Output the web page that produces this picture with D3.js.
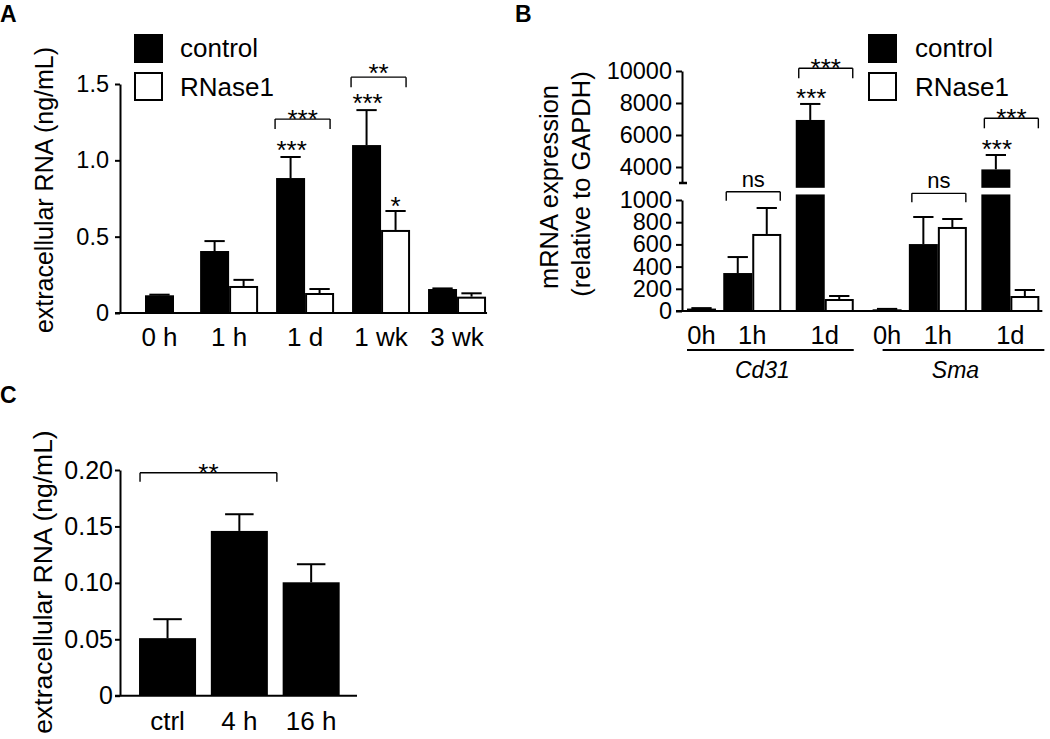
<!DOCTYPE html>
<html><head><meta charset="utf-8">
<script src="https://cdn.jsdelivr.net/npm/d3@7"></script>
<style>
body{margin:0;background:#fff}
svg{display:block}
text{font-family:"Liberation Sans",Arial,Helvetica,sans-serif;fill:#000}
</style>
</head><body>
<svg id="chart" width="1050" height="739"></svg>
<script>
// ---------------- Panel A data ----------------
const catsA = ["0 h", "1 h", "1 d", "1 wk", "3 wk"];
const ctrlA = [0.116, 0.406, 0.884, 1.10, 0.157];
const ctrlErrA = [0.004, 0.065, 0.138, 0.229, 0.004];
const rnaseA = [null, 0.177, 0.131, 0.544, 0.107];
const rnaseErrA = [null, 0.040, 0.026, 0.124, 0.022];
const tickValsA = [0, 0.5, 1.0, 1.5];
const tickLabelsA = ["0", "0.5", "1.0", "1.5"];
const starsCtrlA = ["", "", "***", "***", ""];
const starsRnaseA = ["", "", "", "*", ""];
const bracketCatsA = ["1 d", "1 wk"];
const bracketValsA = [1.27, 1.545];
const bracketLabelsA = ["***", "**"];
const legendLabels = ["control", "RNase1"];

// ---------------- Panel B data ----------------
const genesB = ["Cd31", "Sma"];
const timesB = ["0h", "1h", "1d"];
const ctrlCd31 = [22, 342, 6940];
const ctrlErrCd31 = [4, 144, 1000];
const rnaseCd31 = [null, 694, 108];
const rnaseErrCd31 = [null, 234, 27];
const ctrlSma = [15, 603, 3850];
const ctrlErrSma = [4, 244, 900];
const rnaseSma = [null, 757, 135];
const rnaseErrSma = [null, 72, 54];
const tickValsBLow = [0, 200, 400, 600, 800, 1000];
const tickLabelsBLow = ["0", "200", "400", "600", "800", "1000"];
const tickValsBHigh = [4000, 6000, 8000, 10000];
const tickLabelsBHigh = ["4000", "6000", "8000", "10000"];
const starsCtrlB = ["", "", "***", "", "", "***"];
const bracketIdxB = [1, 2, 4, 5];
const bracketValsB = [1075, 10170, 1060, 7044];
const bracketLabelsB = ["ns", "***", "ns", "***"];

// ---------------- Panel C data ----------------
const catsC = ["ctrl", "4 h", "16 h"];
const valsC = [0.051, 0.146, 0.1005];
const errC = [0.0168, 0.0148, 0.016];
const tickValsC = [0, 0.05, 0.10, 0.15, 0.20];
const tickLabelsC = ["0", "0.05", "0.10", "0.15", "0.20"];
const bracketC = {from: "ctrl", to: "4 h", y: 0.1976, label: "**"};

// ---------------- helpers ----------------
const svg = d3.select("#chart");

function txt(g, x, y, s, o = {}) {
  const t = g.append("text").attr("x", x).attr("y", y).text(s)
    .attr("font-size", o.size || 24)
    .attr("text-anchor", o.anchor || "start");
  if (o.weight) t.attr("font-weight", o.weight);
  if (o.style) t.attr("font-style", o.style);
  if (o.rotate) t.attr("transform", `rotate(${o.rotate},${x},${y})`);
  return t;
}
function line(g, x1, y1, x2, y2, w = 2) {
  g.append("line").attr("x1", x1).attr("y1", y1).attr("x2", x2).attr("y2", y2)
    .attr("stroke", "#000").attr("stroke-width", w);
}
function barRect(g, x0, x1, yTop, yBase, black) {
  if (black) {
    g.append("rect").attr("x", x0).attr("y", yTop).attr("width", x1 - x0)
      .attr("height", Math.max(0, yBase - yTop)).attr("fill", "#000");
  } else {
    g.append("rect").attr("x", x0 + 1).attr("y", yTop + 1).attr("width", x1 - x0 - 2)
      .attr("height", Math.max(0, yBase - yTop - 1)).attr("fill", "#fff")
      .attr("stroke", "#000").attr("stroke-width", 2);
  }
}
function errBar(g, cx, yTop, yErr, capW) {
  line(g, cx, yTop, cx, yErr, 2);
  line(g, cx - capW / 2, yErr, cx + capW / 2, yErr, 2);
}
function bracket(g, x0, x1, y, leg, label, size, gapAbove) {
  line(g, x0, y, x1, y, 1.4);
  line(g, x0, y, x0, y + leg, 1.4);
  line(g, x1, y, x1, y + leg, 1.4);
  txt(g, (x0 + x1) / 2, y - gapAbove, label, {size: size, anchor: "middle"});
}
// asterisks in Arial sit high: baseline ~ 11px below visual bottom at 26px
function stars(g, cx, visualBottom, label) {
  txt(g, cx, visualBottom + 11, label, {size: 26, anchor: "middle"});
}
// group layout in bar-width units
function layout(counts, gapSingle, gapPair, extra) {
  let pos = 0; const groups = [];
  counts.forEach((n, i) => {
    if (i > 0) pos += (counts[i - 1] === 1 ? gapSingle : gapPair) + (extra[i] || 0);
    groups.push({start: pos, n: n});
    pos += n;
  });
  return {groups, total: pos};
}
function styleAxis(g, size) {
  g.select(".domain").attr("stroke-width", 2);
  g.selectAll(".tick line").attr("stroke-width", 2);
  g.selectAll(".tick text").attr("font-size", size)
    .attr("font-family", '"Liberation Sans",Arial,sans-serif');
}

// ================= Panel A =================
(function () {
  const g = svg.append("g");
  const y = d3.scaleLinear().domain([0, 1.5]).range([313, 84]);
  const counts = rnaseA.map(v => v == null ? 1 : 2);
  const L = layout(counts, 0.9, 0.62, []);
  const bw = 29;
  const x = d3.scaleLinear().domain([0, L.total]).range([145, 145 + L.total * bw]);
  const u = x(1) - x(0);
  const capW = 0.7 * u;

  catsA.forEach((c, i) => {
    const gr = L.groups[i];
    const x0 = x(gr.start);
    barRect(g, x0, x0 + u, y(ctrlA[i]), y(0), true);
    errBar(g, x0 + u / 2, y(ctrlA[i]), y(ctrlA[i] + ctrlErrA[i]), capW);
    if (starsCtrlA[i]) stars(g, x0 + u / 2 + 1, y(ctrlA[i] + ctrlErrA[i]) - 9, starsCtrlA[i]);
    if (rnaseA[i] != null) {
      const x1 = x0 + u;
      barRect(g, x1, x1 + u, y(rnaseA[i]), y(0), false);
      errBar(g, x1 + u / 2, y(rnaseA[i]), y(rnaseA[i] + rnaseErrA[i]), capW);
      if (starsRnaseA[i]) stars(g, x1 + u / 2, y(rnaseA[i] + rnaseErrA[i]) - 7, starsRnaseA[i]);
    }
    txt(g, x(gr.start + gr.n / 2), 346, c, {size: 26, anchor: "middle"});
  });

  bracketCatsA.forEach((c, k) => {
    const gr = L.groups[catsA.indexOf(c)];
    bracket(g, x(gr.start) - 1, x(gr.start + gr.n) - 4, y(bracketValsA[k]), 10,
      bracketLabelsA[k], 26, k === 0 ? -9 : -5);
  });

  const ax = g.append("g").attr("transform", "translate(120,0)")
    .call(d3.axisLeft(y).tickValues(tickValsA).tickFormat((d, i) => tickLabelsA[i])
      .tickSize(5).tickSizeOuter(0).tickPadding(6));
  styleAxis(ax, 23.5);
  line(g, 115, y(0), x(L.total) + 1, y(0), 2);

  txt(g, 53, 190, "extracellular RNA (ng/mL)", {size: 25, anchor: "middle", rotate: -90});

  g.append("rect").attr("x", 134).attr("y", 34).attr("width", 29).attr("height", 29).attr("fill", "#000");
  g.append("rect").attr("x", 135).attr("y", 73).attr("width", 27).attr("height", 27)
    .attr("fill", "#fff").attr("stroke", "#000").attr("stroke-width", 2);
  txt(g, 180, 57, legendLabels[0], {size: 26});
  txt(g, 180, 96, legendLabels[1], {size: 26});

  txt(g, 0, 22, "A", {size: 23, weight: "bold"});
})();

// ================= Panel B =================
(function () {
  const g = svg.append("g");
  const yLow = d3.scaleLinear().domain([0, 1000]).range([311, 200]);
  const yHigh = d3.scaleLinear().domain([3000, 10000]).range([183, 71]);
  const lowTopVal = 1050, highBottomVal = 2700;
  const yB = v => v <= 1100 ? yLow(v) : yHigh(v);

  const ctrl = ctrlCd31.concat(ctrlSma);
  const ctrlErr = ctrlErrCd31.concat(ctrlErrSma);
  const rn = rnaseCd31.concat(rnaseSma);
  const rnErr = rnaseErrCd31.concat(rnaseErrSma);
  const labels = timesB.concat(timesB);
  const counts = rn.map(v => v == null ? 1 : 2);
  const L = layout(counts, 0.25, 0.5, [0, 0, 0, 0.15, 0, 0]);
  const bw = 29;
  const x = d3.scaleLinear().domain([0, L.total]).range([687, 687 + L.total * bw]);
  const u = x(1) - x(0);
  const capW = 0.7 * u;

  function drawBar(x0, v, black) {
    if (v <= 1000) {
      barRect(g, x0, x0 + u, yLow(v), yLow(0), black);
    } else {
      barRect(g, x0, x0 + u, yLow(lowTopVal), yLow(0), black);
      barRect(g, x0, x0 + u, yHigh(v), yHigh(highBottomVal), black);
    }
  }

  labels.forEach((lab, i) => {
    const gr = L.groups[i];
    const x0 = x(gr.start);
    drawBar(x0, ctrl[i], true);
    errBar(g, x0 + u / 2, yB(ctrl[i]), yB(ctrl[i] + ctrlErr[i]), capW);
    if (starsCtrlB[i]) stars(g, x0 + u / 2 + 1, yB(ctrl[i] + ctrlErr[i]) - 8, starsCtrlB[i]);
    if (rn[i] != null) {
      const x1 = x0 + u;
      drawBar(x1, rn[i], false);
      errBar(g, x1 + u / 2, yB(rn[i]), yB(rn[i] + rnErr[i]), capW);
    }
    txt(g, x(gr.start + gr.n / 2), 344, lab, {size: 25.5, anchor: "middle"});
  });

  bracketIdxB.forEach((gi, k) => {
    const gr = L.groups[gi];
    const isNs = bracketLabelsB[k] === "ns";
    bracket(g, x(gr.start) + 3, x(gr.start + gr.n) - 1, yB(bracketValsB[k]), isNs ? 9 : 10,
      bracketLabelsB[k], isNs ? 22 : 26, isNs ? 5 : -9);
  });

  const axLow = g.append("g").attr("transform", "translate(682,0)")
    .call(d3.axisLeft(yLow).tickValues(tickValsBLow).tickFormat((d, i) => tickLabelsBLow[i])
      .tickSize(6).tickSizeOuter(0).tickPadding(4));
  styleAxis(axLow, 23.5);
  const axHigh = g.append("g").attr("transform", "translate(682,0)")
    .call(d3.axisLeft(yHigh).tickValues(tickValsBHigh).tickFormat((d, i) => tickLabelsBHigh[i])
      .tickSize(6).tickSizeOuter(0).tickPadding(4));
  styleAxis(axHigh, 23.5);
  line(g, 679, yHigh(3000), 687, yHigh(3000), 2.5);
  line(g, 676, yLow(0), x(L.total) + 3, yLow(0), 2);

  [[0, 2], [3, 5]].forEach(([a, b], k) => {
    const xs = x(L.groups[a].start) + (k === 1 ? 10 : 0);
    const xe = x(L.groups[b].start + L.groups[b].n) + (k === 1 ? 5 : 0);
    line(g, xs, 350, xe, 350, 2);
    txt(g, (xs + xe) / 2 - 8, 378, genesB[k], {size: 23, anchor: "middle", style: "italic"});
  });

  txt(g, 558, 187, "mRNA expression", {size: 25.5, anchor: "middle", rotate: -90});
  txt(g, 590, 184, "(relative to GAPDH)", {size: 25.5, anchor: "middle", rotate: -90});

  g.append("rect").attr("x", 868).attr("y", 34).attr("width", 29).attr("height", 29).attr("fill", "#000");
  g.append("rect").attr("x", 869).attr("y", 73).attr("width", 27).attr("height", 27)
    .attr("fill", "#fff").attr("stroke", "#000").attr("stroke-width", 2);
  txt(g, 915, 57, legendLabels[0], {size: 26});
  txt(g, 915, 96, legendLabels[1], {size: 26});

  txt(g, 515, 22, "B", {size: 23, weight: "bold"});
})();

// ================= Panel C =================
(function () {
  const g = svg.append("g");
  const y = d3.scaleLinear().domain([0, 0.2]).range([695.7, 470]);
  const x = d3.scaleBand().domain(catsC).range([120, 358.7]).paddingInner(0.206).paddingOuter(0.265);
  const bw = x.bandwidth();

  catsC.forEach((c, i) => {
    barRect(g, x(c), x(c) + bw, y(valsC[i]), y(0), true);
    errBar(g, x(c) + bw / 2, y(valsC[i]), y(valsC[i] + errC[i]), bw * 0.5);
    txt(g, x(c) + bw / 2, 730, c, {size: 26, anchor: "middle"});
  });

  bracket(g, x(bracketC.from) + 1, x(bracketC.to) + bw + 9, y(bracketC.y), 9, bracketC.label, 26, -9);

  const ax = g.append("g").attr("transform", "translate(120,0)")
    .call(d3.axisLeft(y).tickValues(tickValsC).tickFormat((d, i) => tickLabelsC[i])
      .tickSize(5).tickSizeOuter(0).tickPadding(2));
  styleAxis(ax, 25);
  line(g, 115, y(0), 357, y(0), 2);

  txt(g, 52, 582, "extracellular RNA (ng/mL)", {size: 26.5, anchor: "middle", rotate: -90});
  txt(g, 0, 403, "C", {size: 23, weight: "bold"});
})();
</script>
</body></html>
